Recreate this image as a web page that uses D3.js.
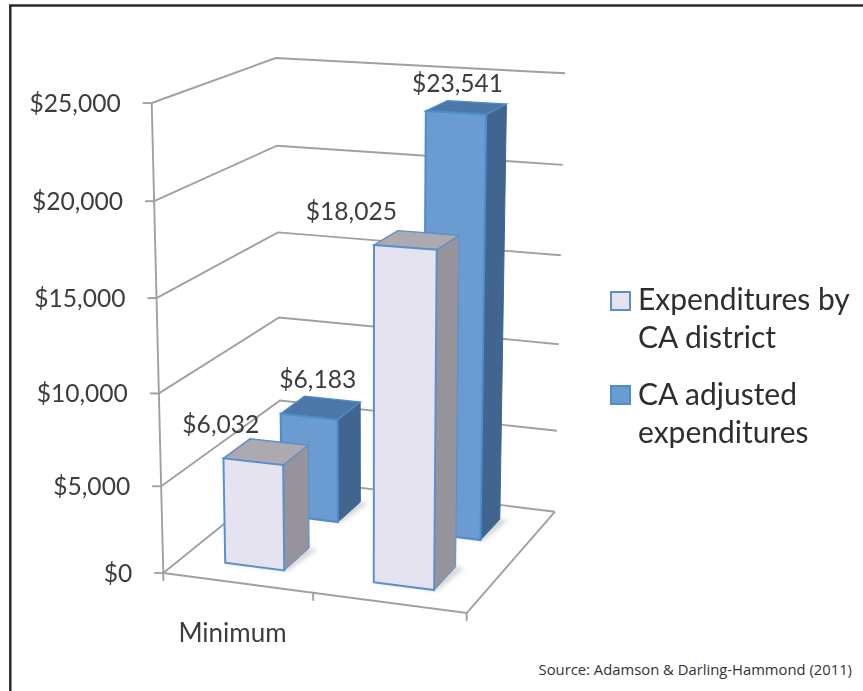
<!DOCTYPE html>
<html><head><meta charset="utf-8">
<script src="https://cdn.jsdelivr.net/npm/d3@7"></script>
<style>html,body{margin:0;padding:0;background:#fff}svg{display:block}</style></head>
<body><svg id="c" width="863" height="691"></svg>
<script>
const categories = ["Minimum", ""];
const seriesNames = ["Expenditures by CA district", "CA adjusted expenditures"];
const districtValues = [6032, 18025];
const adjustedValues = [6183, 23541];
const valueTicks = [0, 5000, 10000, 15000, 20000, 25000];
const legendLines = [["Expenditures by", "CA district"], ["CA adjusted", "expenditures"]];
const sourceNote = "Source: Adamson & Darling-Hammond (2011)";

const svg = d3.select("#c");
const fontMain = "Lato, Carlito, sans-serif";
const textColor = "#3d3d3d";

// Projection: corners of the chart box, [front-left, front-right, back-right, back-left]
const floorQuad = [[163.3,573],[466.7,613],[555,511.7],[281,478]];
const topQuad = [[151.7,103],[472,121],[565,73.3],[275.7,58]];

function squareToQuad(q){
  const [[x0,y0],[x1,y1],[x2,y2],[x3,y3]] = q;
  const dx1=x1-x2, dx2=x3-x2, sx=x0-x1+x2-x3, dy1=y1-y2, dy2=y3-y2, sy=y0-y1+y2-y3;
  const det=dx1*dy2-dx2*dy1;
  const g=(sx*dy2-dx2*sy)/det, h=(dx1*sy-sx*dy1)/det;
  const a=x1-x0+g*x1, b=x3-x0+h*x3, c=x0, d=y1-y0+g*y1, e=y3-y0+h*y3, f=y0;
  return (u,v)=>{const w=g*u+h*v+1; return [(a*u+b*v+c)/w,(d*u+e*v+f)/w];};
}
const floorH = squareToQuad(floorQuad), topH = squareToQuad(topQuad);
const yFrac = d3.scalePow().exponent(1.05).domain([0,25000]).range([0,1]);
function P(u,v,val){
  const a=floorH(u,v), b=topH(u,v), t=yFrac(val);
  return [a[0]+(b[0]-a[0])*t, a[1]+(b[1]-a[1])*t];
}
const xBand = d3.scaleBand().domain(categories).range([-0.005,0.995]).paddingInner(0.6).paddingOuter(0.3);
const zBand = d3.scaleBand().domain(seriesNames).range([0.005,1.005]).paddingInner(0.55).paddingOuter(0.3);
const line = d3.line();
const poly = pts => line(pts)+"Z";

const defs = svg.append("defs");
defs.append("filter").attr("id","soft").attr("x","-5%").attr("y","-5%").attr("width","110%").attr("height","110%")
  .append("feGaussianBlur").attr("stdDeviation",0.55);
defs.append("filter").attr("id","shadow").attr("x","-30%").attr("y","-30%").attr("width","160%").attr("height","160%")
  .append("feGaussianBlur").attr("stdDeviation",2);

const g = svg.append("g").attr("filter","url(#soft)");
const gridColor="#a0a0a0", gridW=1.9;

// walls
valueTicks.forEach(t=>{
  g.append("path").attr("d",line([P(0,0,t),P(0,1,t),P(1,1,t)])).attr("fill","none").attr("stroke",gridColor).attr("stroke-width",gridW);
  const p=P(0,0,t);
  g.append("line").attr("x1",p[0]-9).attr("x2",p[0]).attr("y1",p[1]).attr("y2",p[1]).attr("stroke",gridColor).attr("stroke-width",gridW);
  g.append("text").attr("x",p[0]-31).attr("y",p[1]+9).attr("text-anchor","end")
   .attr("font-family",fontMain).attr("font-size",24.6).attr("fill",textColor).text(d3.format("$,")(t));
});
// axes
g.append("path").attr("d",line([P(0,0,0),P(0,0,25000)])).attr("fill","none").attr("stroke",gridColor).attr("stroke-width",gridW);
g.append("path").attr("d",line([P(0,0,0),P(1,0,0),P(1,1,0)])).attr("fill","none").attr("stroke",gridColor).attr("stroke-width",gridW);
[0,0.5,1].forEach(u=>{const p=floorH(u,0);
  g.append("line").attr("x1",p[0]).attr("x2",p[0]).attr("y1",p[1]).attr("y2",p[1]+8).attr("stroke",gridColor).attr("stroke-width",gridW);});

const palette = [
  {front:"#e6e3f0",side:"#96939a",top:"#aca9b0",stroke:"#5b90cc"},
  {front:"#6a9bd1",side:"#41668f",top:"#4b78a8",stroke:"#4f8cca"}
];
const seriesVals=[districtValues,adjustedValues];
const labelOffsets=[[[-45.5,-19],[-65.5,-20]],[[-3,-20],[-9,-15]]];
function bar(si,ci){
  const c=palette[si], val=seriesVals[si][ci];
  const u0=xBand(categories[ci]), u1=u0+xBand.bandwidth();
  const v0=zBand(seriesNames[si]), v1=v0+zBand.bandwidth();
  g.append("path").attr("d",poly([floorH(u0,v0),floorH(u1+.012,v0),floorH(u1+.03,v1),floorH(u1,v1)])).attr("fill","#b5b5b5").attr("opacity",.55).attr("filter","url(#shadow)");
  g.append("path").attr("d",poly([P(u1,v0,0),P(u1,v1,0),P(u1,v1,val),P(u1,v0,val)])).attr("fill",c.side).attr("stroke",si?c.side:c.stroke).attr("stroke-width",1);
  g.append("path").attr("d",poly([P(u0,v0,val),P(u1,v0,val),P(u1,v1,val),P(u0,v1,val)])).attr("fill",c.top).attr("stroke",c.stroke).attr("stroke-width",1.4);
  g.append("path").attr("d",poly([P(u0,v0,0),P(u1,v0,0),P(u1,v0,val),P(u0,v0,val)])).attr("fill",c.front).attr("stroke",c.stroke).attr("stroke-width",2);
  const lp=P((u0+u1)/2,(v0+v1)/2,val), o=labelOffsets[si][ci];
  return {x:lp[0]+o[0],y:lp[1]+o[1],val};
}
const tops=[];
[1,0].forEach(si=>categories.forEach((cn,ci)=>tops.push(bar(si,ci))));
tops.forEach(t=>{
  g.append("text").attr("x",t.x).attr("y",t.y).attr("text-anchor","middle")
   .attr("font-family",fontMain).attr("font-size",24.6).attr("fill",textColor).text(d3.format("$,")(t.val));
});
// category label
g.append("text").attr("x",232.5).attr("y",642).attr("text-anchor","middle").attr("font-family",fontMain).attr("font-size",26).attr("fill",textColor).text(categories[0]);

// legend
const legendBoxY=[292,386], legendBase=[[310,348],[405,443]];
legendLines.forEach((ls,i)=>{
  g.append("rect").attr("x",611).attr("y",legendBoxY[i]).attr("width",19).attr("height",18).attr("fill",palette[i].front).attr("stroke",palette[i].stroke).attr("stroke-width",2);
  ls.forEach((l,j)=>g.append("text").attr("x",638).attr("y",legendBase[i][j]).attr("font-family",fontMain).attr("font-size",30).attr("fill","#2f2f2f").text(l));
});
// frame and note
svg.append("path").attr("d","M10.3,691V5.5H863").attr("fill","none").attr("stroke","#2b2b2b").attr("stroke-width",2.5);
svg.append("text").attr("x",852).attr("y",675).attr("text-anchor","end").attr("font-family","'Open Sans',sans-serif").attr("font-size",14.8).attr("fill","#333").text(sourceNote);
</script></body></html>
